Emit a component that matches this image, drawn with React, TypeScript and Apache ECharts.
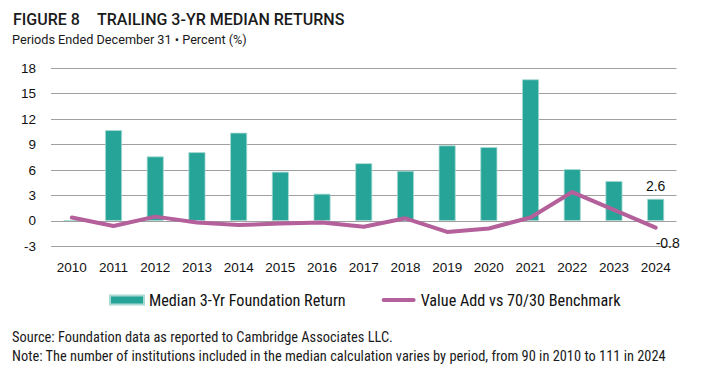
import React, { useEffect, useRef } from "react";
import * as echarts from "echarts";

const years = ["2010","2011","2012","2013","2014","2015","2016","2017","2018","2019","2020","2021","2022","2023","2024"];
const medianReturn = [0.1, 10.7, 7.6, 8.1, 10.4, 5.8, 3.2, 6.8, 5.9, 8.9, 8.7, 16.7, 6.1, 4.7, 2.6];
const valueAdd = [0.4, -0.6, 0.5, -0.2, -0.5, -0.3, -0.2, -0.7, 0.3, -1.3, -0.9, 0.4, 3.4, 1.3, -0.8];
const yTicks = { min: -3, max: 18, interval: 3 };

const TEAL = "#26A498";
const MAGENTA = "#B3609B";
const NARROW = "'Liberation Sans Narrow', 'Roboto Condensed', 'Liberation Sans', sans-serif";
const LINE_ICON = "path://M2,0 L32,0 A2,2 0 0 1 32,4 L2,4 A2,2 0 0 1 2,0 Z";

export default function App() {
  const ref = useRef<HTMLDivElement>(null);
  useEffect(() => {
    if (!ref.current) return;
    const chart = echarts.init(ref.current, null, { renderer: "svg" });
    const last = years.length - 1;
    chart.setOption({
      animation: false,
      backgroundColor: "#ffffff",
      grid: { left: 51, right: 25.5, top: 68.3, bottom: 139.7, containLabel: false },
      xAxis: {
        type: "category",
        data: years,
        boundaryGap: true,
        axisLine: { show: false, onZero: false },
        axisTick: { show: false },
        axisLabel: { margin: 14, color: "#111", fontSize: 13.5, fontFamily: "'Liberation Sans', sans-serif" },
      },
      yAxis: {
        type: "value",
        min: yTicks.min,
        max: yTicks.max,
        interval: yTicks.interval,
        axisLine: { show: false },
        axisTick: { show: false },
        axisLabel: { margin: 15, color: "#111", fontSize: 13.5, fontFamily: "'Liberation Sans', sans-serif" },
        splitLine: { lineStyle: { color: "#A0A0A0", width: 1 } },
      },
      legend: {
        left: 109,
        top: 292,
        padding: 0,
        itemWidth: 34,
        itemHeight: 9,
        itemGap: 36,
        textStyle: { fontSize: 16.2, color: "#111", fontFamily: NARROW },
        data: [
          { name: "Median 3-Yr Foundation Return", icon: "rect" },
          { name: "Value Add vs 70/30 Benchmark", icon: LINE_ICON, itemStyle: { color: MAGENTA, borderWidth: 0 } },
        ],
      },
      series: [
        {
          name: "Median 3-Yr Foundation Return",
          type: "bar",
          barWidth: 17,
          itemStyle: { color: TEAL, borderColor: "#A8DAD3", borderWidth: 0.8 },
          data: medianReturn.map((v, i) =>
            i === last
              ? { value: v, label: { show: true, position: "top", distance: 6, fontSize: 14, color: "#111", fontFamily: "'Liberation Sans', sans-serif" } }
              : v
          ),
          z: 2,
        },
        {
          name: "Value Add vs 70/30 Benchmark",
          type: "line",
          symbol: "none",
          showSymbol: false,
          lineStyle: { color: MAGENTA, width: 4, cap: "round", join: "round" },
          itemStyle: { color: MAGENTA },
          endLabel: {
            show: true,
            distance: 0,
            offset: [0, 15],
            fontSize: 14,
            color: "#111",
            fontFamily: "'Liberation Sans', sans-serif",
          },
          data: valueAdd,
          z: 3,
        },
      ],
      graphic: [
        { type: "text", left: 13, top: 11, style: { text: "FIGURE 8", fontSize: 16, fontWeight: 500, fontFamily: "Roboto, sans-serif", fill: "#1a1a1a" } },
        { type: "text", left: 97, top: 11, style: { text: "TRAILING 3-YR MEDIAN RETURNS", fontSize: 16, fontWeight: 500, fontFamily: "Roboto, sans-serif", fill: "#1a1a1a" } },
        { type: "text", left: 12, top: 33, style: { text: "Periods Ended December 31 • Percent (%)", fontSize: 12.7, fontFamily: "Roboto, sans-serif", fill: "#1a1a1a" } },
        { type: "text", left: 12, top: 330, style: { text: "Source: Foundation data as reported to Cambridge Associates LLC.", fontSize: 14.4, fontFamily: NARROW, fill: "#1a1a1a" } },
        { type: "text", left: 12, top: 349, style: { text: "Note: The number of institutions included in the median calculation varies by period, from 90 in 2010 to 111 in 2024", fontSize: 14.4, fontFamily: NARROW, fill: "#1a1a1a" } },
      ],
    });
    return () => chart.dispose();
  }, []);
  return <div ref={ref} style={{ width: 702, height: 386, position: "absolute", left: 0, top: 0 }} />;
}
